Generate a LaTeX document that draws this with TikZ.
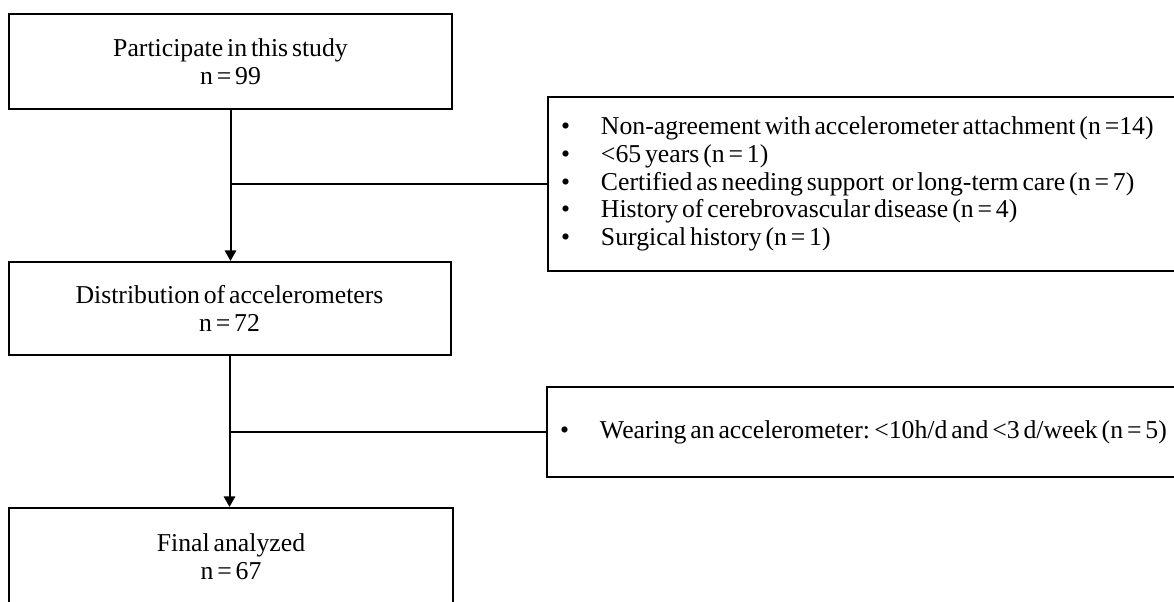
\documentclass[tikz,border=0pt]{standalone}
\usepackage{fontspec}
\setmainfont[WordSpace=0.6]{Liberation Serif}
\usetikzlibrary{arrows.meta}
\tikzset{every picture/.style={line width=1.5pt}}
\tikzset{
  flowbox/.style={draw, rectangle, inner sep=0.75pt, align=center, font=\fontsize{19.3pt}{20.7pt}\selectfont},
  exclbox/.style={draw, rectangle, anchor=west, inner xsep=9.75pt, inner ysep=0pt, text width=520pt, align=left, font=\fontsize{19.3pt}{20.8pt}\selectfont, execute at begin node={\spaceskip=0.15em\relax}},
  flowarrow/.style={-{Triangle[width=8.5pt,length=8pt]}}
}
\newcommand{\bul}{\makebox[30pt][l]{\textbullet}}

\begin{document}
\begin{tikzpicture}[x=0.75pt,y=0.75pt,yscale=-1,xscale=1]
%set diagram to 1174 x 601
\useasboundingbox (0,0) rectangle (1174,601);

%Shape: Rectangle [id:start]
\node [flowbox, minimum width=332.25pt, minimum height=71.25pt] (start) at (230.5,61.5) {Participate in this study\\n = 99};
%Shape: Rectangle [id:distrib]
\node [flowbox, minimum width=331.5pt, minimum height=69.75pt] (distrib) at (229.5,308.5) {Distribution of accelerometers\\n = 72};
%Shape: Rectangle [id:final]
\node [flowbox, minimum width=333pt, minimum height=72.75pt] (final) at (231,556.5) {Final analyzed\\n = 67};

%Shape: Rectangle [id:excla]
\node [exclbox, minimum height=130.5pt] (excla) at (547,184) {\bul Non-agreement with accelerometer attachment (n =14)\\
\bul <65 years (n = 1)\\
\bul Certified as needing support\ \ or long-term care (n = 7)\\
\bul History of cerebrovascular disease (n = 4)\\
\bul Surgical history (n = 1)};
%Shape: Rectangle [id:exclb]
\node [exclbox, minimum height=67.5pt] (exclb) at (546,432) {\bul Wearing an accelerometer:\,<10h/d and <3 d/week (n = 5)};

%Straight Lines [id:start-distrib]
\draw [flowarrow] (start.south) -- (start.south |- distrib.north) ;
%Straight Lines [id:start-excla]
\draw    (start.south |- excla.west) -- (excla.west) ;
%Straight Lines [id:distrib-final]
\draw [flowarrow] (distrib.south) -- (distrib.south |- final.north) ;
%Straight Lines [id:distrib-exclb]
\draw    (distrib.south |- exclb.west) -- (exclb.west) ;

\end{tikzpicture}
\end{document}
